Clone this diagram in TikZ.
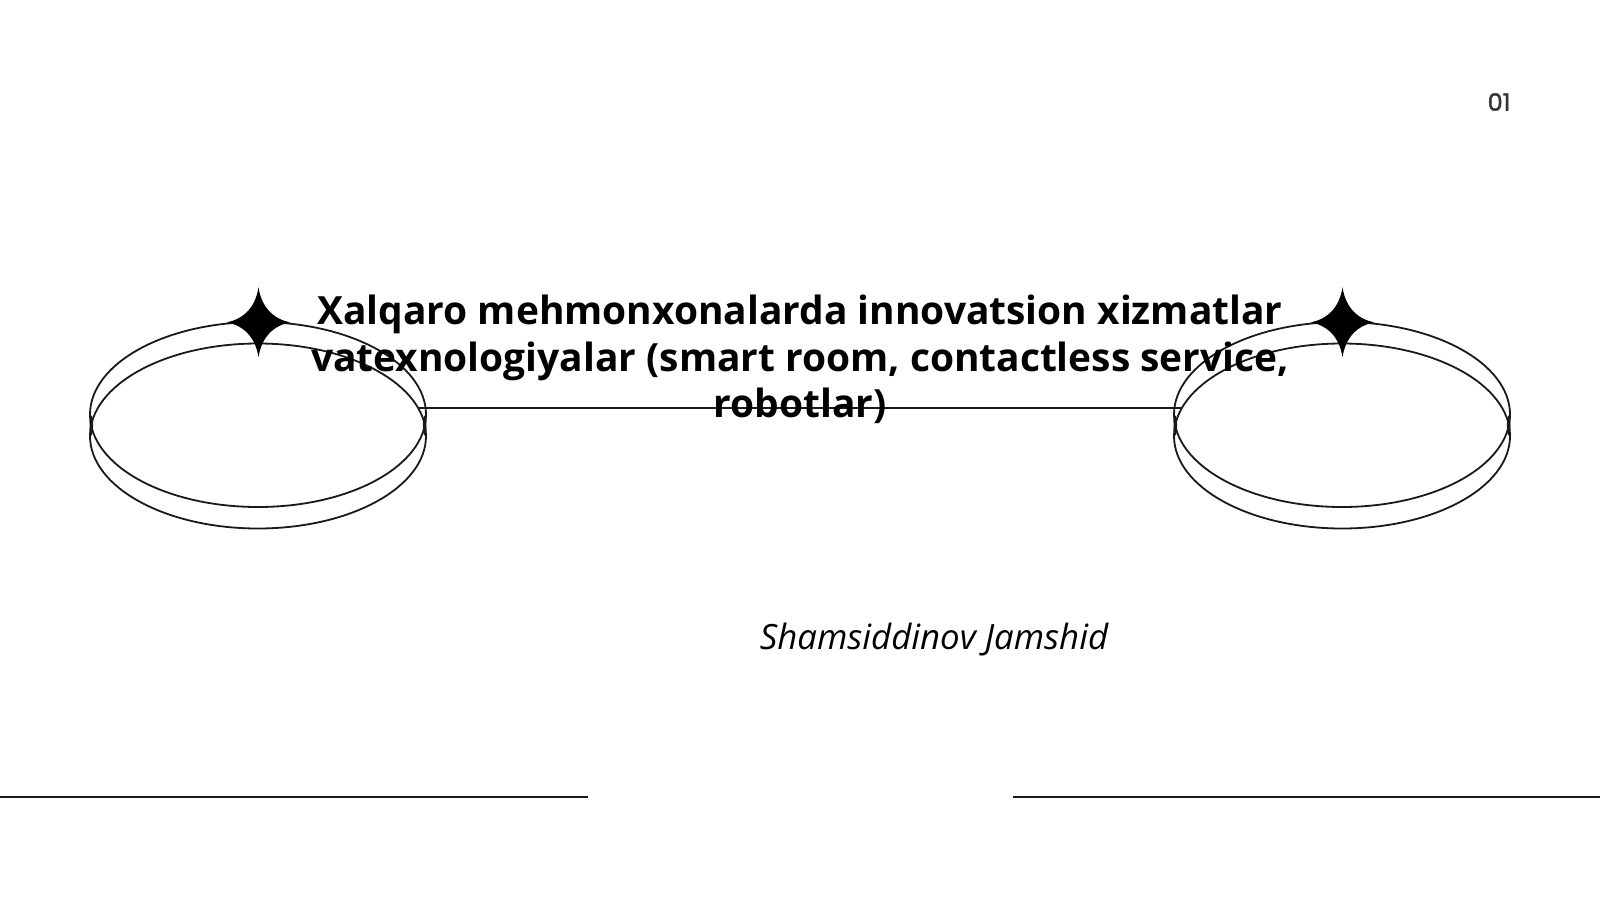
\documentclass[tikz,border=0pt]{standalone}
\usepackage{fontspec}
\setmainfont{Open Sans}
\newfontfamily\numfont[FakeBold=1.5]{Poppins}
\usetikzlibrary{shapes.geometric}
\tikzset{
  ring/.style={draw=black!90,line width=1.8pt,ellipse,minimum width=336pt,minimum height=185pt,inner sep=0pt,fill=none},
  rule/.style={draw=black!90,line width=1.8pt},
  starshape/.style={fill=black,draw=none},
  pinch/.style={fill=black!90,draw=none,ellipse,minimum width=3.6pt,minimum height=20pt,inner sep=0pt}
}
\newcommand{\fourstar}[1]{%
  \fill[starshape,shift={(#1)}] (0,-35) .. controls (3,-15) and (15,-3) .. (32,0)
    .. controls (15,3) and (3,15) .. (0,35)
    .. controls (-3,15) and (-15,3) .. (-32,0)
    .. controls (-15,-3) and (-3,-15) .. (0,-35) -- cycle;}
\begin{document}
\begin{tikzpicture}[x=1pt,y=-1pt]
\useasboundingbox (0,0) rectangle (1600,900);
\node[ring] (leftUpper) at (258,414.5) {};
\node[ring] (leftLower) at (258,436) {};
\node[ring] (rightUpper) at (1342,414.5) {};
\node[ring] (rightLower) at (1342,436) {};
\node[pinch] (pinchA) at (91.3,425.5) {};
\node[pinch] (pinchB) at (424.7,425.5) {};
\node[pinch] (pinchC) at (1175.3,425.5) {};
\node[pinch] (pinchD) at (1508.7,425.5) {};
\coordinate (starL) at (258.5,322.3);
\coordinate (starR) at (1342.5,322.3);
\fourstar{starL}
\fourstar{starR}
\coordinate (lineL) at (418,408);
\coordinate (lineR) at (1182,408);
\draw[rule] (lineL) -- (lineR);
\coordinate (ruleA) at (0,797);
\coordinate (ruleB) at (588,797);
\coordinate (ruleC) at (1013,797);
\coordinate (ruleD) at (1600,797);
\draw[rule] (ruleA) -- (ruleB);
\draw[rule] (ruleC) -- (ruleD);
\node[align=center,inner sep=0pt,font=\fontsize{38.9}{46.6}\selectfont\bfseries] (title) at (800,359.5)
  {Xalqaro mehmonxonalarda innovatsion xizmatlar\\vatexnologiyalar (smart room, contactless service,\\robotlar)};
\node[inner sep=0pt,font=\fontsize{34.8}{40}\selectfont\itshape] (author) at (934,640) {Shamsiddinov Jamshid};
\node[inner sep=0pt,text=black!80,font=\fontsize{24}{28}\selectfont\numfont] (page) at (1499,102) {01};
\end{tikzpicture}
\end{document}
